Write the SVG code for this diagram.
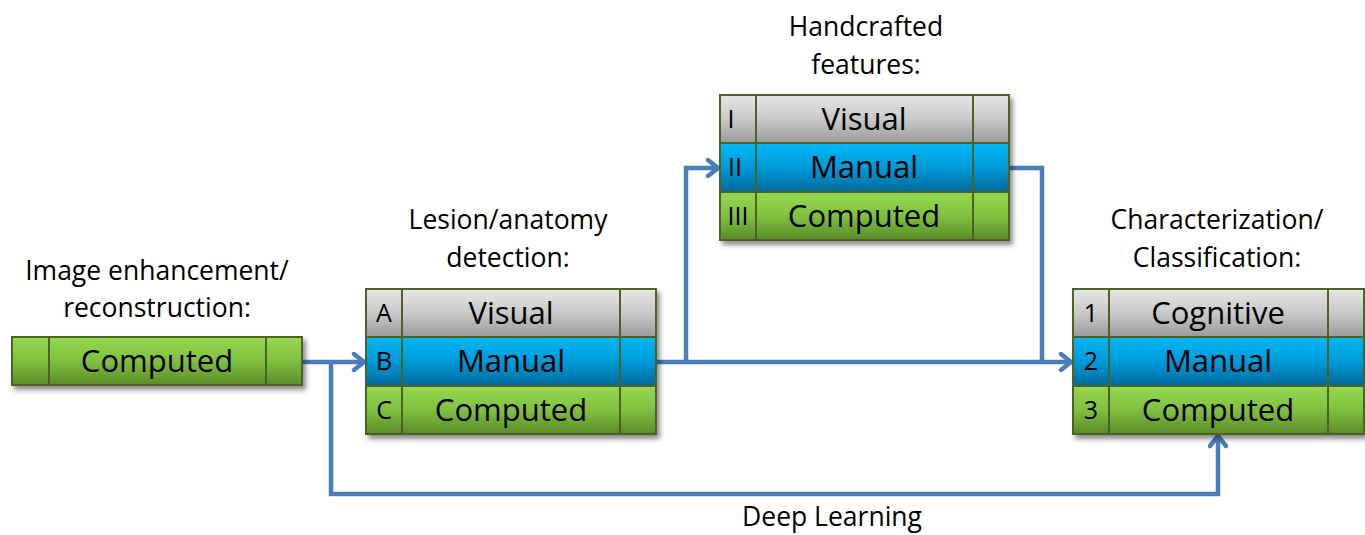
<svg xmlns="http://www.w3.org/2000/svg" width="1365" height="535" viewBox="0 0 1365 535">
<style>
.lbl{font-family:"Open Sans","Liberation Sans",sans-serif;font-size:26.5px;fill:#000;text-anchor:middle}
.cell{font-family:"Open Sans","Liberation Sans",sans-serif;font-size:31px;fill:#000;text-anchor:middle}
.idx{font-family:"Open Sans","Liberation Sans",sans-serif;font-size:25px;fill:#000;text-anchor:middle}
.bd{stroke:#4f6228;stroke-width:2;}
.gr{fill:url(#gGrey)}
.bl{fill:url(#gBlue)}
.gn{fill:url(#gGreen)}
.con{fill:none;stroke:#4a7ebb;stroke-width:4.5;stroke-linejoin:miter}
</style>
<defs>
<linearGradient id="gGrey" x1="0" y1="0" x2="0" y2="1"><stop offset="0" stop-color="#e6e6e6"/><stop offset="0.5" stop-color="#c9c9c9"/><stop offset="1" stop-color="#9a9a9a"/></linearGradient>
<linearGradient id="gBlue" x1="0" y1="0" x2="0" y2="1"><stop offset="0" stop-color="#00b8f8"/><stop offset="0.5" stop-color="#009ad8"/><stop offset="1" stop-color="#006a9c"/></linearGradient>
<linearGradient id="gGreen" x1="0" y1="0" x2="0" y2="1"><stop offset="0" stop-color="#96d850"/><stop offset="0.5" stop-color="#80c040"/><stop offset="1" stop-color="#5a8c28"/></linearGradient>
<filter id="sh" x="-5%" y="-10%" width="115%" height="130%"><feGaussianBlur in="SourceAlpha" stdDeviation="2.5"/><feOffset dx="3" dy="4"/><feComponentTransfer><feFuncA type="linear" slope="0.45"/></feComponentTransfer><feMerge><feMergeNode/><feMergeNode in="SourceGraphic"/></feMerge></filter>
<marker id="arr" markerWidth="18" markerHeight="20" viewBox="0 0 18 20" refX="15" refY="10" orient="auto" markerUnits="userSpaceOnUse"><path d="M5,2 L15,10 L5,18" fill="none" stroke="#4a7ebb" stroke-width="4.5" stroke-linecap="round" stroke-linejoin="round"/></marker>
</defs>

<g id="connectors">
<path class="con" d="M302,362 H364" marker-end="url(#arr)"/>
<path class="con" d="M331,362 V494 H1218 V436" marker-end="url(#arr)"/>
<path class="con" d="M656,362 H1071" marker-end="url(#arr)"/>
<path class="con" d="M686,362 V168 H718" marker-end="url(#arr)"/>
<path class="con" d="M1009,168 H1042 V362"/>
</g>

<g id="node-enhancement">
<text class="lbl" x="157" y="280">Image enhancement/</text>
<text class="lbl" x="157" y="317">reconstruction:</text>
<g filter="url(#sh)">
<rect class="gn bd" x="12" y="337" width="290" height="48"/>
<line class="bd" x1="49" y1="337" x2="49" y2="385"/>
<line class="bd" x1="266" y1="337" x2="266" y2="385"/>
</g>
<text class="cell" x="157" y="372">Computed</text>
</g>

<g id="node-detection">
<text class="lbl" x="508" y="229">Lesion/anatomy</text>
<text class="lbl" x="508" y="267">detection:</text>
<g filter="url(#sh)">
<rect class="gr bd" x="366" y="289" width="290" height="48"/>
<rect class="bl bd" x="366" y="337" width="290" height="49"/>
<rect class="gn bd" x="366" y="386" width="290" height="48"/>
<line class="bd" x1="402" y1="289" x2="402" y2="434"/>
<line class="bd" x1="620" y1="289" x2="620" y2="434"/>
</g>
<text class="idx" x="384" y="322">A</text>
<text class="idx" x="384" y="370">B</text>
<text class="idx" x="384" y="419">C</text>
<text class="cell" x="511" y="324">Visual</text>
<text class="cell" x="511" y="372">Manual</text>
<text class="cell" x="511" y="421">Computed</text>
</g>

<g id="node-features">
<text class="lbl" x="866" y="36">Handcrafted</text>
<text class="lbl" x="866" y="74">features:</text>
<g filter="url(#sh)">
<rect class="gr bd" x="720" y="95" width="289" height="48"/>
<rect class="bl bd" x="720" y="143" width="289" height="49"/>
<rect class="gn bd" x="720" y="192" width="289" height="48"/>
<line class="bd" x1="756" y1="95" x2="756" y2="240"/>
<line class="bd" x1="973" y1="95" x2="973" y2="240"/>
</g>
<text class="idx" x="731" y="128">I</text>
<text class="idx" x="735" y="176">II</text>
<text class="idx" x="738" y="225">III</text>
<text class="cell" x="864" y="130">Visual</text>
<text class="cell" x="864" y="178">Manual</text>
<text class="cell" x="864" y="227">Computed</text>
</g>

<g id="node-classification">
<text class="lbl" x="1217" y="229">Characterization/</text>
<text class="lbl" x="1217" y="267">Classification:</text>
<g filter="url(#sh)">
<rect class="gr bd" x="1073" y="289" width="291" height="48"/>
<rect class="bl bd" x="1073" y="337" width="291" height="49"/>
<rect class="gn bd" x="1073" y="386" width="291" height="48"/>
<line class="bd" x1="1109" y1="289" x2="1109" y2="434"/>
<line class="bd" x1="1328" y1="289" x2="1328" y2="434"/>
</g>
<text class="idx" x="1091" y="322">1</text>
<text class="idx" x="1091" y="370">2</text>
<text class="idx" x="1091" y="419">3</text>
<text class="cell" x="1218" y="324">Cognitive</text>
<text class="cell" x="1218" y="372">Manual</text>
<text class="cell" x="1218" y="421">Computed</text>
</g>

<g id="label-deep-learning">
<text class="lbl" x="832" y="526">Deep Learning</text>
</g>
</svg>
